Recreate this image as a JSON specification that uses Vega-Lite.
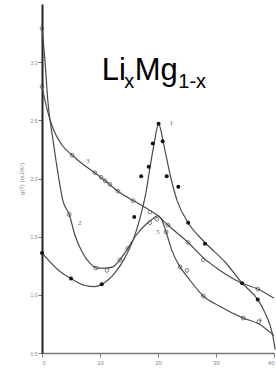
{
  "$schema": "https://vega.github.io/schema/vega-lite/v6.json",
  "width": 232,
  "height": 349,
  "autosize": "none",
  "padding": {"left": 42, "top": 4, "right": 2, "bottom": 16},
  "background": "white",
  "config": {"view": {"stroke": null}},
  "datasets": {
    "curves": [
      {"c": "1", "x": 0, "y": 1.36}, {"c": "1", "x": 3.1, "y": 1.2}, {"c": "1", "x": 5.0, "y": 1.14}, {"c": "1", "x": 7.4, "y": 1.08}, {"c": "1", "x": 9.1, "y": 1.07}, {"c": "1", "x": 10.3, "y": 1.09}, {"c": "1", "x": 12.6, "y": 1.19}, {"c": "1", "x": 14.3, "y": 1.32}, {"c": "1", "x": 15.7, "y": 1.47}, {"c": "1", "x": 16.9, "y": 1.66}, {"c": "1", "x": 18.0, "y": 1.9}, {"c": "1", "x": 18.6, "y": 2.09}, {"c": "1", "x": 19.3, "y": 2.29}, {"c": "1", "x": 20.1, "y": 2.47}, {"c": "1", "x": 21.0, "y": 2.29}, {"c": "1", "x": 22.1, "y": 2.03}, {"c": "1", "x": 23.3, "y": 1.81}, {"c": "1", "x": 25.2, "y": 1.62}, {"c": "1", "x": 28.1, "y": 1.45}, {"c": "1", "x": 31.6, "y": 1.28}, {"c": "1", "x": 34.5, "y": 1.1}, {"c": "1", "x": 37.2, "y": 0.96}, {"c": "1", "x": 38.6, "y": 0.83}, {"c": "1", "x": 39.7, "y": 0.67}, {"c": "1", "x": 40.2, "y": 0.53},
      {"c": "2", "x": 0, "y": 3.29}, {"c": "2", "x": 0.5, "y": 3.02}, {"c": "2", "x": 1.0, "y": 2.67}, {"c": "2", "x": 1.9, "y": 2.33}, {"c": "2", "x": 2.8, "y": 2.03}, {"c": "2", "x": 3.6, "y": 1.81}, {"c": "2", "x": 4.7, "y": 1.69}, {"c": "2", "x": 5.7, "y": 1.51}, {"c": "2", "x": 6.9, "y": 1.37}, {"c": "2", "x": 8.3, "y": 1.27}, {"c": "2", "x": 9.5, "y": 1.23}, {"c": "2", "x": 11.0, "y": 1.23}, {"c": "2", "x": 12.2, "y": 1.24}, {"c": "2", "x": 13.4, "y": 1.3}, {"c": "2", "x": 14.8, "y": 1.4}, {"c": "2", "x": 16.2, "y": 1.51}, {"c": "2", "x": 17.8, "y": 1.6}, {"c": "2", "x": 19.0, "y": 1.65}, {"c": "2", "x": 20.0, "y": 1.68}, {"c": "2", "x": 20.7, "y": 1.64}, {"c": "2", "x": 21.4, "y": 1.54}, {"c": "2", "x": 22.4, "y": 1.38}, {"c": "2", "x": 23.8, "y": 1.24}, {"c": "2", "x": 25.3, "y": 1.14}, {"c": "2", "x": 27.8, "y": 0.99}, {"c": "2", "x": 30.7, "y": 0.9}, {"c": "2", "x": 34.7, "y": 0.8}, {"c": "2", "x": 37.4, "y": 0.75}, {"c": "2", "x": 40, "y": 0.65},
      {"c": "3", "x": 0, "y": 2.79}, {"c": "3", "x": 0.9, "y": 2.59}, {"c": "3", "x": 1.9, "y": 2.43}, {"c": "3", "x": 3.4, "y": 2.29}, {"c": "3", "x": 5.2, "y": 2.2}, {"c": "3", "x": 7.4, "y": 2.11}, {"c": "3", "x": 9.1, "y": 2.05}, {"c": "3", "x": 10.9, "y": 1.98}, {"c": "3", "x": 13.1, "y": 1.89}, {"c": "3", "x": 15.7, "y": 1.81}, {"c": "3", "x": 17.8, "y": 1.75}, {"c": "3", "x": 20.0, "y": 1.68}, {"c": "3", "x": 21.7, "y": 1.6}, {"c": "3", "x": 25.2, "y": 1.45}, {"c": "3", "x": 27.8, "y": 1.32}, {"c": "3", "x": 30.7, "y": 1.21}, {"c": "3", "x": 34.5, "y": 1.1}, {"c": "3", "x": 37.2, "y": 1.05}, {"c": "3", "x": 40, "y": 0.97}
    ],
    "filled": [
      {"x": 0, "y": 1.36}, {"x": 5.0, "y": 1.14}, {"x": 10.3, "y": 1.09}, {"x": 15.9, "y": 1.67}, {"x": 17.1, "y": 2.02}, {"x": 18.4, "y": 2.1}, {"x": 19.1, "y": 2.3}, {"x": 20.1, "y": 2.47}, {"x": 20.8, "y": 2.32}, {"x": 21.5, "y": 2.02}, {"x": 23.5, "y": 1.93}, {"x": 25.2, "y": 1.62}, {"x": 28.1, "y": 1.44}, {"x": 34.5, "y": 1.1}, {"x": 37.2, "y": 0.96}
    ],
    "open": [
      {"x": 0, "y": 3.29}, {"x": 4.7, "y": 1.69}, {"x": 9.3, "y": 1.23}, {"x": 11.2, "y": 1.21}, {"x": 13.4, "y": 1.3}, {"x": 14.8, "y": 1.4}, {"x": 18.6, "y": 1.62}, {"x": 19.8, "y": 1.65}, {"x": 21.4, "y": 1.54}, {"x": 23.8, "y": 1.24}, {"x": 25.0, "y": 1.21}, {"x": 27.8, "y": 0.99}, {"x": 34.7, "y": 0.8}, {"x": 37.4, "y": 0.77},
      {"x": 0, "y": 2.79}, {"x": 5.2, "y": 2.2}, {"x": 9.1, "y": 2.05}, {"x": 10.2, "y": 2.01}, {"x": 10.9, "y": 1.98}, {"x": 11.7, "y": 1.95}, {"x": 13.1, "y": 1.89}, {"x": 15.7, "y": 1.81}, {"x": 18.6, "y": 1.71}, {"x": 21.7, "y": 1.6}, {"x": 25.2, "y": 1.45}, {"x": 27.8, "y": 1.3}, {"x": 37.2, "y": 1.05}
    ],
    "labels": [
      {"t": "1", "x": 22.3, "y": 2.48}, {"t": "2", "x": 6.5, "y": 1.62}, {"t": "3", "x": 7.9, "y": 2.15}, {"t": "5", "x": 20.0, "y": 1.54}, {"t": "4", "x": 37.6, "y": 0.78}
    ],
    "big": [
      {"t": "Li", "x": 10.3, "y": 2.845}, {"t": "Mg", "x": 16.0, "y": 2.845}
    ],
    "small": [
      {"t": "x", "x": 14.2, "y": 2.78}, {"t": "1-x", "x": 23.5, "y": 2.78}
    ]
  },
  "layer": [
    {
      "data": {"name": "curves"},
      "mark": {"type": "line", "interpolate": "monotone", "color": "#4a4a4a", "strokeWidth": 1.2},
      "encoding": {
        "x": {"field": "x", "type": "quantitative", "scale": {"domain": [0, 40], "nice": false},
          "axis": {"values": [0, 10, 20, 30, 40], "title": null, "grid": false, "domainColor": "#777777", "domainWidth": 1.5, "tickColor": "#777777", "tickSize": 4, "tickDirection": "up", "labelFontSize": 6, "labelColor": "#888888", "labelPadding": 2}},
        "y": {"field": "y", "type": "quantitative", "scale": {"domain": [0.5, 3.5], "nice": false, "zero": false},
          "axis": {"values": [0.5, 1, 1.5, 2, 2.5, 3], "format": ".1f", "title": "g(T) (mJ/K²)", "titleFontSize": 6, "titleFontWeight": "normal", "titleColor": "#888888", "titlePadding": 6, "grid": false, "domainColor": "#222222", "domainWidth": 2, "tickColor": "#777777", "tickSize": 4, "labelFontSize": 5, "labelColor": "#888888", "labelPadding": 1}},
        "detail": {"field": "c"}
      }
    },
    {
      "data": {"name": "filled"},
      "mark": {"type": "point", "filled": true, "color": "#111111", "size": 16, "opacity": 1},
      "encoding": {"x": {"field": "x", "type": "quantitative"}, "y": {"field": "y", "type": "quantitative"}}
    },
    {
      "data": {"name": "open"},
      "mark": {"type": "point", "filled": false, "color": "#444444", "size": 14, "strokeWidth": 1},
      "encoding": {"x": {"field": "x", "type": "quantitative"}, "y": {"field": "y", "type": "quantitative"}}
    },
    {
      "data": {"name": "labels"},
      "mark": {"type": "text", "fontSize": 7, "color": "#666666", "font": "Liberation Serif"},
      "encoding": {"x": {"field": "x", "type": "quantitative"}, "y": {"field": "y", "type": "quantitative"}, "text": {"field": "t"}}
    },
    {
      "data": {"name": "big"},
      "mark": {"type": "text", "fontSize": 31, "color": "#000000", "font": "Liberation Sans", "align": "left", "baseline": "alphabetic"},
      "encoding": {"x": {"field": "x", "type": "quantitative"}, "y": {"field": "y", "type": "quantitative"}, "text": {"field": "t"}}
    },
    {
      "data": {"name": "small"},
      "mark": {"type": "text", "fontSize": 20, "color": "#000000", "font": "Liberation Sans", "align": "left", "baseline": "alphabetic"},
      "encoding": {"x": {"field": "x", "type": "quantitative"}, "y": {"field": "y", "type": "quantitative"}, "text": {"field": "t"}}
    }
  ]
}
